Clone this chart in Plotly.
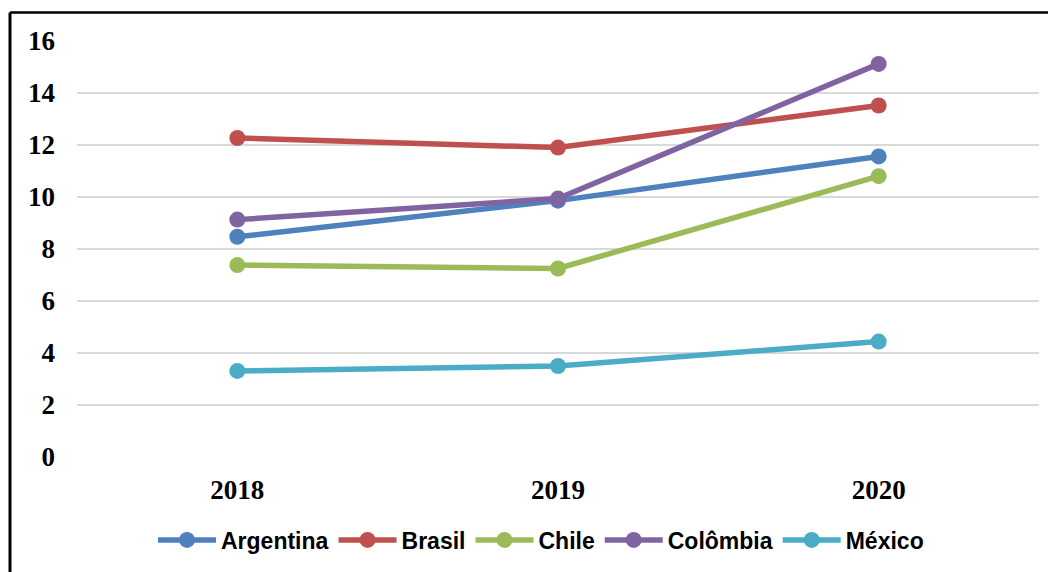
import plotly.graph_objects as go

years = ["2018", "2019", "2020"]
argentina = [8.47, 9.86, 11.56]
brasil = [12.27, 11.90, 13.52]
chile = [7.38, 7.25, 10.80]
colombia = [9.13, 9.94, 15.12]
mexico = [3.31, 3.50, 4.44]

series_names = ["Argentina", "Brasil", "Chile", "Colômbia", "México"]
series_values = [argentina, brasil, chile, colombia, mexico]
colors = ["#4F81BD", "#C0504D", "#9BBB59", "#8064A2", "#4BACC6"]

fig = go.Figure()
for name, vals, col in zip(series_names, series_values, colors):
    fig.add_trace(go.Scatter(
        x=years, y=vals, name=name, mode="lines+markers",
        line=dict(color=col, width=5.5),
        marker=dict(color=col, size=16),
    ))

OFF = 8  # page body margin
W, H = 1056 - OFF, 572 - OFF
L, T = 77 - OFF, 41 - OFF
R = W - (1039 - OFF)
B = H - (458 - OFF)
pw, ph = W - L - R, H - T - B

def px_x(x):
    return (x - OFF - L) / pw

def px_y(y):
    return (458 - y) / ph

fig.add_shape(type="line", xref="paper", yref="paper",
              x0=px_x(10), x1=px_x(1080), y0=px_y(12.5), y1=px_y(12.5),
              line=dict(color="black", width=2.5))
fig.add_shape(type="line", xref="paper", yref="paper",
              x0=px_x(10), x1=px_x(10), y0=px_y(12.5), y1=px_y(600),
              line=dict(color="black", width=3))

tickfont = dict(family="Liberation Serif, DejaVu Serif, serif", size=27, color="black", weight="bold")

fig.update_layout(
    width=W, height=H,
    margin=dict(l=L, r=R, t=T, b=B, pad=0),
    paper_bgcolor="white", plot_bgcolor="white",
    showlegend=True,
    legend=dict(orientation="h", x=px_x(541), xanchor="center", y=px_y(540), yanchor="middle",
                font=dict(family="Liberation Sans, Arial, sans-serif", size=23, color="black", weight="bold"),
                itemwidth=58, traceorder="normal", bgcolor="rgba(0,0,0,0)"),
    xaxis=dict(type="category", range=[-0.5, 2.5], showgrid=False, zeroline=False,
               showline=False, tickfont=tickfont, ticks="", ticklabelstandoff=14),
    yaxis=dict(range=[0, 16], dtick=2, showgrid=True, gridcolor="#D9D9D9", gridwidth=1.5,
               zeroline=False, showline=False, tickfont=tickfont, ticks="", ticklabelstandoff=21),
)

fig.write_html("out.html")
